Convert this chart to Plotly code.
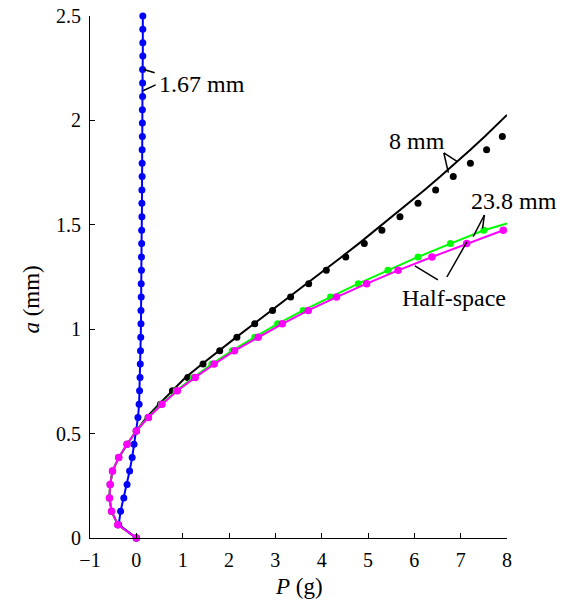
import plotly.graph_objects as go

# ---------------- data ----------------
# contact radius grid a (mm) used by the numerical points
a_grid = [0.000, 0.064, 0.128, 0.192, 0.256, 0.321, 0.385, 0.449, 0.513, 0.577,
          0.641, 0.705, 0.769, 0.833, 0.897, 0.962, 1.026, 1.090, 1.154, 1.218,
          1.282, 1.346, 1.410, 1.474, 1.538, 1.603, 1.667, 1.731, 1.795, 1.859,
          1.923, 1.987, 2.051, 2.115, 2.179, 2.244, 2.308, 2.372, 2.436, 2.500]

# 1.67 mm film: load P (g) for every a in a_grid
P_167 = [0.0, -0.38, -0.34, -0.27, -0.20, -0.145, -0.09, -0.05, 0.0, 0.035,
         0.06, 0.07, 0.08, 0.085, 0.09, 0.095, 0.10, 0.10, 0.105, 0.105,
         0.11, 0.11, 0.115, 0.115, 0.12, 0.12, 0.12, 0.125, 0.125, 0.125,
         0.13, 0.13, 0.13, 0.135, 0.135, 0.135, 0.14, 0.14, 0.14, 0.14]

# Half-space: load P (g) for a_grid[0:24]
P_half = [0.0, -0.40, -0.535, -0.58, -0.565, -0.515, -0.38, -0.20, 0.0, 0.26,
          0.555, 0.885, 1.27, 1.68, 2.12, 2.63, 3.15, 3.71, 4.32, 4.97,
          5.65, 6.38, 7.13, 7.92]

# 23.8 mm film, numerical points: load P (g) for a_grid[0:24]
P_238_pts = [0.0, -0.40, -0.535, -0.58, -0.565, -0.515, -0.38, -0.20, -0.005, 0.25,
             0.54, 0.86, 1.23, 1.63, 2.07, 2.555, 3.05, 3.60, 4.19, 4.79,
             5.43, 6.08, 6.78, 7.50]
# 23.8 mm film, theory curve end point
a_238_end = 1.507
P_238_end = 8.0

# 8 mm film, numerical points: load P (g) for a_grid[0:31]
P_8_pts = [0.0, -0.40, -0.535, -0.58, -0.565, -0.515, -0.38, -0.20, 0.0, 0.26,
           0.52, 0.78, 1.11, 1.44, 1.80, 2.17, 2.555, 2.94, 3.33, 3.72,
           4.10, 4.52, 4.92, 5.30, 5.69, 6.08, 6.46, 6.84, 7.21, 7.56, 7.90]
# 8 mm film, theory curve
a_8_line = [0.000, 0.064, 0.128, 0.192, 0.256, 0.321, 0.385, 0.449, 0.513, 0.577,
            0.641, 0.705, 0.769, 0.833, 0.897, 0.962, 1.026, 1.090, 1.154, 1.218,
            1.282, 1.346, 1.410, 1.474, 1.538, 1.603, 1.667, 1.731, 1.795, 1.859,
            1.923, 1.987, 2.026]
P_8_line = [0.0, -0.40, -0.535, -0.58, -0.565, -0.515, -0.38, -0.20, 0.0, 0.22,
            0.49, 0.78, 1.06, 1.42, 1.78, 2.16, 2.54, 2.92, 3.31, 3.69,
            4.05, 4.43, 4.80, 5.16, 5.52, 5.87, 6.22, 6.56, 6.89, 7.21,
            7.52, 7.82, 8.0]

x_ticks = [-1, 0, 1, 2, 3, 4, 5, 6, 7, 8]
y_ticks = [0, 0.5, 1, 1.5, 2, 2.5]
y_ticktext = ["0", "0.5", "1", "1.5", "2", "2.5"]

# ---------------- figure ----------------
FONT = "Liberation Serif, Times New Roman, serif"
BLUE, GREEN, MAGENTA, BLACK = "#0000ff", "#00ff00", "#ff00ff", "#000000"

fig = go.Figure()

# 8 mm theory line and points
fig.add_trace(go.Scatter(x=P_8_line, y=a_8_line, mode="lines",
                         line=dict(color=BLACK, width=2), cliponaxis=False))
fig.add_trace(go.Scatter(x=P_8_pts, y=a_grid[:len(P_8_pts)], mode="markers",
                         marker=dict(color=BLACK, size=7), cliponaxis=False))
# 23.8 mm theory line and points
fig.add_trace(go.Scatter(x=P_238_pts + [P_238_end],
                         y=a_grid[:len(P_238_pts)] + [a_238_end], mode="lines",
                         line=dict(color=GREEN, width=2), cliponaxis=False))
fig.add_trace(go.Scatter(x=P_238_pts, y=a_grid[:len(P_238_pts)], mode="markers",
                         marker=dict(color=GREEN, size=7), cliponaxis=False))
# 1.67 mm
fig.add_trace(go.Scatter(x=P_167, y=a_grid, mode="lines+markers",
                         line=dict(color=BLUE, width=2),
                         marker=dict(color=BLUE, size=7), cliponaxis=False))
# Half-space
fig.add_trace(go.Scatter(x=P_half, y=a_grid[:len(P_half)], mode="lines+markers",
                         line=dict(color=MAGENTA, width=2),
                         marker=dict(color=MAGENTA, size=7.5), cliponaxis=False))

# leader lines for the labels (data coordinates)
leaders = [
    ((0.395, 2.228), (0.143, 2.245)),
    ((0.417, 2.170), (0.143, 2.142)),
    ((6.637, 1.844), (6.734, 1.750)),
    ((6.637, 1.844), (6.929, 1.803)),
    ((7.512, 1.547), (7.270, 1.443)),
    ((7.512, 1.547), (7.473, 1.483)),
    ((6.508, 1.236), (6.011, 1.303)),
    ((6.702, 1.250), (7.134, 1.418)),
]
for (x0, y0), (x1, y1) in leaders:
    fig.add_shape(type="line", xref="x", yref="y", x0=x0, y0=y0, x1=x1, y1=y1,
                  line=dict(color=BLACK, width=1.5))

labels = [
    ("1.67 mm", 0.44, 2.174, "left", 0),
    ("8 mm", 6.065, 1.901, "center", 0),
    ("23.8 mm", 8.0, 1.614, "center", 7),
    ("Half-space", 6.853, 1.149, "center", 0),
]
for txt, x, y, xa, xs in labels:
    fig.add_annotation(x=x, y=y, xref="x", yref="y", text=txt, showarrow=False,
                       xanchor=xa, yanchor="middle", xshift=xs,
                       font=dict(family=FONT, size=24, color=BLACK))

# axis titles
fig.add_annotation(x=0.5, y=-0.092, xref="paper", yref="paper",
                   text="<i>P</i> (g)", showarrow=False, xanchor="center",
                   yanchor="middle", font=dict(family=FONT, size=23, color=BLACK))
fig.add_annotation(x=-0.14, y=0.456, xref="paper", yref="paper",
                   text="<i>a</i> (mm)", showarrow=False, textangle=-90,
                   xanchor="center", yanchor="middle",
                   font=dict(family=FONT, size=23, color=BLACK))

axis_common = dict(showline=True, linecolor=BLACK, linewidth=1, ticks="inside",
                   ticklen=5, tickwidth=1, tickcolor=BLACK, showgrid=False,
                   zeroline=False, mirror=False, automargin=False,
                   tickfont=dict(family=FONT, size=20, color=BLACK))

fig.update_layout(
    width=565, height=604,
    margin=dict(l=90, r=58, t=16, b=66, autoexpand=False),
    paper_bgcolor="white", plot_bgcolor="white",
    showlegend=False,
    xaxis=dict(range=[-1, 8], tickvals=x_ticks, ticklabelstandoff=4, **axis_common),
    yaxis=dict(range=[0, 2.5], tickvals=y_ticks, ticktext=y_ticktext,
               ticklabelstandoff=4, **axis_common),
)

fig.write_html("out.html")
